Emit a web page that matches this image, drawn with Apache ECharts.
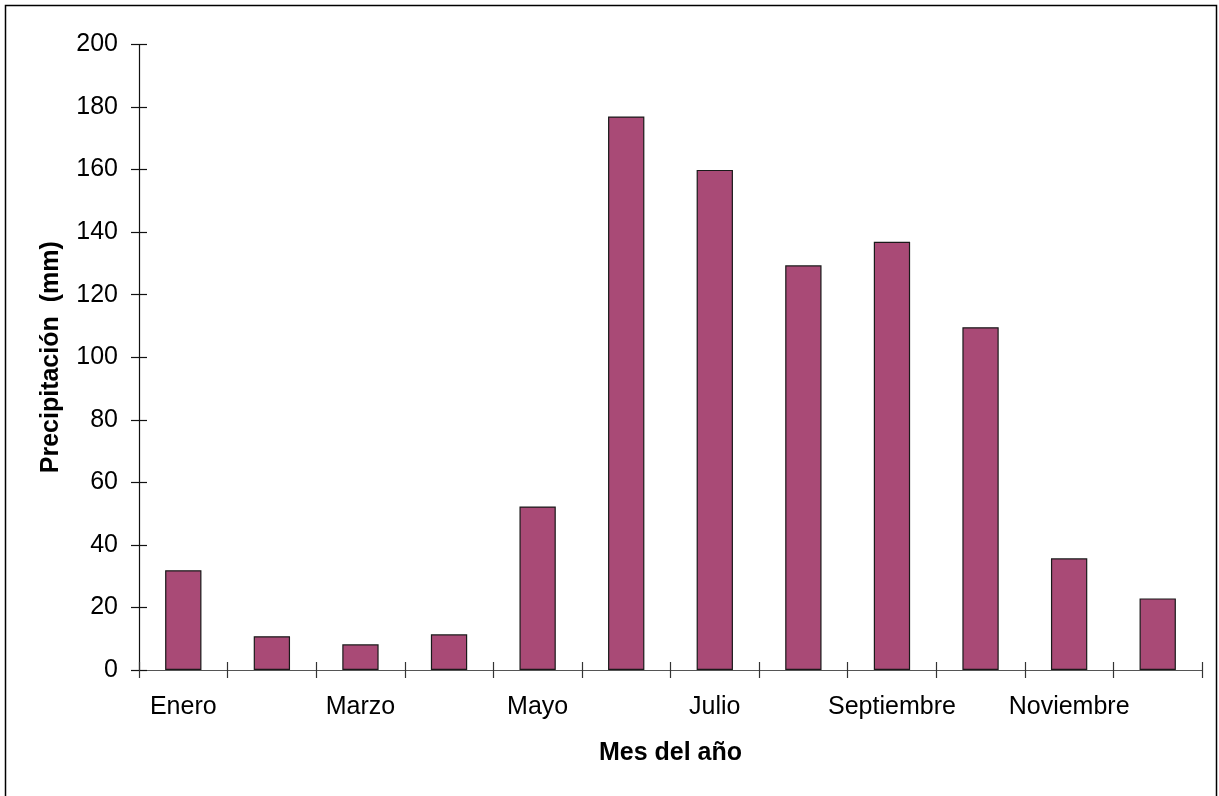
<!DOCTYPE html>
<html>
<head>
<meta charset="utf-8">
<script src="https://cdn.jsdelivr.net/npm/echarts@6/dist/echarts.min.js"></script>
<style>
  html, body { margin: 0; padding: 0; background: #fff; }
  #chart { width: 1219px; height: 796px; }
</style>
</head>
<body>
<div id="chart"></div>
<script>
// Monthly precipitation (mm)
const months = ['Enero', 'Febrero', 'Marzo', 'Abril', 'Mayo', 'Junio',
                'Julio', 'Agosto', 'Septiembre', 'Octubre', 'Noviembre', 'Diciembre'];
const precipitation = [31.9, 10.8, 8.2, 11.4, 52.3, 177.0, 159.9, 129.4, 136.9, 109.6, 35.7, 22.9];
const yTicks = { min: 0, max: 200, step: 20 };

const FONT = '"Liberation Sans", Arial, sans-serif';
const chart = echarts.init(document.getElementById('chart'), null, { renderer: 'canvas' });

const grid = { left: 139, right: 17, top: 44.5, bottom: 126 };

chart.setOption({
  animation: false,
  backgroundColor: '#fff',
  textStyle: { fontFamily: FONT },
  graphic: [{
    type: 'rect',
    shape: { x: 5.5, y: 5.5, width: 1211, height: 800 },
    style: { fill: null, stroke: '#000', lineWidth: 1.5 },
    silent: true
  }],
  grid: grid,
  xAxis: [{
    type: 'category',
    data: months,
    boundaryGap: true,
    axisLine: { show: true, lineStyle: { color: '#555', width: 1.2 } },
    axisTick: { show: true, inside: false, length: 8, interval: 0, lineStyle: { color: '#333', width: 1.2 } },
    axisLabel: { interval: 1, margin: 25, color: '#000', fontSize: 25, fontFamily: FONT },
    splitLine: { show: false },
    name: 'Mes del año',
    nameLocation: 'middle',
    nameGap: 71,
    nameTextStyle: { color: '#000', fontSize: 25, fontWeight: 'bold', fontFamily: FONT }
  }, {
    // inner half of the crossing ticks
    type: 'category',
    data: months,
    position: 'bottom',
    boundaryGap: true,
    axisLine: { show: false },
    axisTick: { show: true, inside: true, length: 8, interval: 0, lineStyle: { color: '#333', width: 1.2 } },
    axisLabel: { show: false },
    splitLine: { show: false }
  }],
  yAxis: [{
    type: 'value',
    min: yTicks.min,
    max: yTicks.max,
    interval: yTicks.step,
    axisLine: { show: true, lineStyle: { color: '#111', width: 1.2 } },
    axisTick: { show: true, inside: false, length: 8, lineStyle: { color: '#111', width: 1.2 } },
    axisLabel: { margin: 21, color: '#000', fontSize: 25, fontFamily: FONT },
    splitLine: { show: false },
    name: 'Precipitación  (mm)',
    nameLocation: 'middle',
    nameGap: 75,
    nameTextStyle: { color: '#000', fontSize: 25, fontWeight: 'bold', fontFamily: FONT }
  }, {
    // inner half of the crossing ticks
    type: 'value',
    position: 'left',
    min: yTicks.min,
    max: yTicks.max,
    interval: yTicks.step,
    axisLine: { show: false },
    axisTick: { show: true, inside: true, length: 8, lineStyle: { color: '#111', width: 1.2 } },
    axisLabel: { show: false },
    splitLine: { show: false }
  }],
  series: [{
    type: 'bar',
    xAxisIndex: 0,
    yAxisIndex: 0,
    data: precipitation,
    barWidth: '41%',
    itemStyle: { color: '#A94A76', borderColor: '#1a1a1a', borderWidth: 1.2 }
  }]
});
</script>
</body>
</html>
